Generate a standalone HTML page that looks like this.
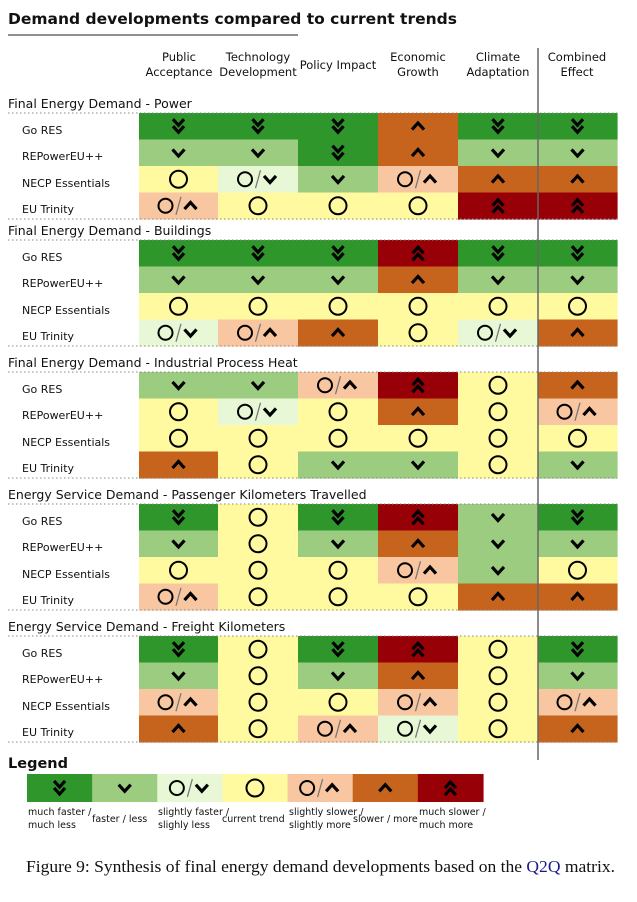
<!DOCTYPE html>
<html><head><meta charset="utf-8"><style>
body{margin:0;background:#fff;width:637px;height:902px;overflow:hidden}
svg{display:block}
text{font-family:"DejaVu Sans","Liberation Sans",sans-serif}
text.cap{font-family:"Liberation Serif",serif}
</style></head><body>
<svg id="s" width="637" height="902" viewBox="0 0 637 902" xmlns="http://www.w3.org/2000/svg">
<text x="8" y="24" font-size="15.5" font-weight="bold" fill="#111">Demand developments compared to current trends</text>
<line x1="8" y1="35" x2="298" y2="35" stroke="#222" stroke-width="1"/>
<g font-size="11.5" fill="#111" text-anchor="middle">
<text x="179" y="61">Public</text><text x="179" y="76">Acceptance</text>
<text x="258" y="61">Technology</text><text x="258" y="76">Development</text>
<text x="338" y="69">Policy Impact</text>
<text x="418" y="61">Economic</text><text x="418" y="76">Growth</text>
<text x="498" y="61">Climate</text><text x="498" y="76">Adaptation</text>
<text x="577" y="61">Combined</text><text x="577" y="76">Effect</text>
</g>
<g id="cells"></g>
<g font-size="12.5" fill="#111">
<text x="8" y="108">Final Energy Demand - Power</text>
<text x="8" y="235">Final Energy Demand - Buildings</text>
<text x="8" y="367">Final Energy Demand - Industrial Process Heat</text>
<text x="8" y="499">Energy Service Demand - Passenger Kilometers Travelled</text>
<text x="8" y="631">Energy Service Demand - Freight Kilometers</text>
</g>
<g font-size="11" fill="#111" id="labels">
<text x="22" y="134">Go RES</text><text x="22" y="160">REPowerEU++</text><text x="22" y="187">NECP Essentials</text><text x="22" y="213">EU Trinity</text>
<text x="22" y="261">Go RES</text><text x="22" y="287">REPowerEU++</text><text x="22" y="314">NECP Essentials</text><text x="22" y="340">EU Trinity</text>
<text x="22" y="393">Go RES</text><text x="22" y="419">REPowerEU++</text><text x="22" y="446">NECP Essentials</text><text x="22" y="472">EU Trinity</text>
<text x="22" y="525">Go RES</text><text x="22" y="551">REPowerEU++</text><text x="22" y="578">NECP Essentials</text><text x="22" y="604">EU Trinity</text>
<text x="22" y="657">Go RES</text><text x="22" y="683">REPowerEU++</text><text x="22" y="710">NECP Essentials</text><text x="22" y="736">EU Trinity</text>
</g>
<line x1="538" y1="48" x2="538" y2="760" stroke="#666" stroke-width="1.5"/>
<text x="8" y="768" font-size="14.5" font-weight="bold" fill="#111">Legend</text>
<g id="leg"></g>
<g font-size="9.5" fill="#111">
<text x="28" y="815">much faster /</text><text x="28" y="828">much less</text>
<text x="92" y="822">faster / less</text>
<text x="158" y="815">slightly faster /</text><text x="158" y="828">slighly less</text>
<text x="222" y="822">current trend</text>
<text x="289" y="815">slightly slower /</text><text x="289" y="828">slightly more</text>
<text x="353" y="822">slower / more</text>
<text x="419" y="815">much slower /</text><text x="419" y="828">much more</text>
</g>
<text class="cap" x="26" y="872" font-size="17" textLength="589" lengthAdjust="spacingAndGlyphs" fill="#111">Figure 9: Synthesis of final energy demand developments based on the <tspan fill="#1a1a8c">Q2Q</tspan> matrix.</text>
</svg>
<script>
var C={A:"#2e962a",B:"#9ccc80",c:"#e8f8d6",Y:"#fffaa0",o:"#f8c6a0",O:"#c6641e",R:"#980008"};
var data=[
["AAAOAA","BBAOBB","YcBoOO","oYYYRR"],
["AAARAA","BBBOBB","YYYYYY","coOYcO"],
["BBoRYO","YcYOYo","YYYYYY","OYBBYB"],
["AYARBA","BYBOBB","YYYoBY","oYYYOO"],
["AYARYA","BYBOYB","oYYoYo","OYocYO"]];
var tops=[113,240,372,504,636],xs=[139,218,298,378,458,538,617],rh=26.5;
var h="";
function sym(k,cx,cy){
 var s="";
 var dn=function(x,y,w){return '<polyline points="'+(x-w)+','+(y-w*0.55)+' '+x+','+(y+w*0.55)+' '+(x+w)+','+(y-w*0.55)+'" fill="none" stroke="#000" stroke-width="3.2"/>';};
 var up=function(x,y,w){return '<polyline points="'+(x-w)+','+(y+w*0.55)+' '+x+','+(y-w*0.55)+' '+(x+w)+','+(y+w*0.55)+'" fill="none" stroke="#000" stroke-width="3.2"/>';};
 var circ=function(x,y,r){return '<circle cx="'+x+'" cy="'+y+'" r="'+r+'" fill="none" stroke="#000" stroke-width="2"/>';};
 var sl=function(x,y){return '<line x1="'+(x-2.5)+'" y1="'+(y+9)+'" x2="'+(x+2.5)+'" y2="'+(y-9)+'" stroke="#777" stroke-width="1.3"/>';};
 if(k=="A")s=dn(cx,cy-4,5.5)+dn(cx,cy+3,5.5);
 else if(k=="B")s=dn(cx,cy,6);
 else if(k=="Y")s=circ(cx,cy,8.5);
 else if(k=="c")s=circ(cx-13,cy,7)+sl(cx,cy)+dn(cx+12,cy,6);
 else if(k=="o")s=circ(cx-13,cy,7)+sl(cx,cy)+up(cx+12,cy,6);
 else if(k=="O")s=up(cx,cy,6);
 else if(k=="R")s=up(cx,cy-3,5.5)+up(cx,cy+4,5.5);
 return s;}
for(var i=0;i<5;i++){
 var t=tops[i];
 for(var r=0;r<4;r++){var y=t+r*rh;
  for(var c=0;c<6;c++){var k=data[i][r][c];
   h+='<rect x="'+xs[c]+'" y="'+y+'" width="'+(xs[c+1]-xs[c]+0.6)+'" height="'+(rh+0.6)+'" fill="'+C[k]+'"/>';
   h+=sym(k,(xs[c]+xs[c+1])/2,y+rh/2);}}
 h+='<line x1="8" y1="'+t+'" x2="617" y2="'+t+'" stroke="#888" stroke-width="1" stroke-dasharray="1.5,2.5"/>';
 h+='<line x1="8" y1="'+(t+4*rh)+'" x2="617" y2="'+(t+4*rh)+'" stroke="#888" stroke-width="1" stroke-dasharray="1.5,2.5"/>';
}
document.getElementById("cells").innerHTML=h;
var L="ABcYoOR",g="",w=65.14;
for(var j=0;j<7;j++){var x=27+j*w;g+='<rect x="'+x+'" y="774" width="'+(w+0.6)+'" height="28" fill="'+C[L[j]]+'"/>'+sym(L[j],x+w/2,788);}
document.getElementById("leg").innerHTML=g;
</script>
</body></html>
